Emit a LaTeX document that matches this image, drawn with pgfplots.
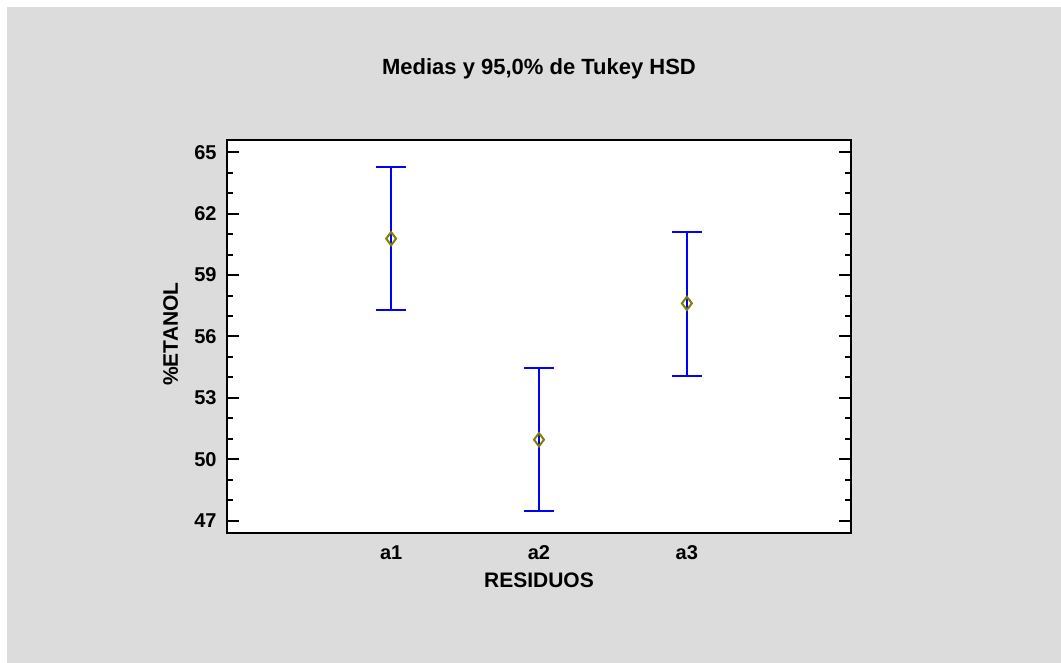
\documentclass[border=0pt]{standalone}
\usepackage{fontspec}
\setmainfont{Liberation Sans}
\usepackage{pgfplots}
\pgfplotsset{compat=1.18}
\usepackage{pgfplotstable}

\definecolor{panelgray}{RGB}{220,220,220}
\definecolor{meanolive}{RGB}{128,128,0}
\definecolor{barblue}{RGB}{0,0,255}

% means and Tukey HSD interval (upper / lower distances)
\pgfplotstableread{
x  mean   up    lo
1  60.78  3.50  3.48
2  50.96  3.49  3.47
3  57.62  3.50  3.56
}\tukey

\begin{document}
\begin{tikzpicture}
% 1px = 0.5pt, axis box at 227..851 x 140..533 px
\useasboundingbox (-113.5pt,-65pt) rectangle (417pt,266.5pt);
\fill[white] (-113.5pt,-65pt) rectangle (417pt,266.5pt);
\fill[panelgray] (-110pt,-65pt) rectangle (417pt,263pt);
\begin{axis}[
    scale only axis,
    width=312pt, height=196.5pt,
    axis background/.style={fill=white},
    axis line style={line width=1pt},
    xmin=-0.11, xmax=4.11,
    ymin=46.4, ymax=65.6,
    xtick={1,2,3},
    xticklabels={a1,a2,a3},
    xtick style={draw=none},
    ytick={47,50,53,56,59,62,65},
    minor y tick num=2,
    ytick style={line width=1pt, black},
    major tick length=6pt,
    minor tick length=3pt,
    tick align=inside,
    /pgf/number format/assume math mode=true,
    tick label style={font=\bfseries\fontsize{10}{12}\selectfont, inner sep=0pt},
    yticklabel style={anchor=east, xshift=-5pt},
    xticklabel style={anchor=north, yshift=-6pt},
    title={Medias y 95,0\% de Tukey HSD},
    title style={font=\bfseries\fontsize{11}{13}\selectfont, at={(0.5,1.150)}, anchor=center},
    xlabel={RESIDUOS},
    ylabel={\%ETANOL},
    label style={font=\bfseries\fontsize{10.5}{12}\selectfont},
    xlabel style={at={(axis description cs:0.5,-0.1196)}, anchor=center},
    ylabel style={at={(axis description cs:-0.0902,0.506)}, anchor=center},
]
\addplot[only marks, mark=diamond, mark size=3.3pt,
    mark options={draw=meanolive, fill=none, line width=1pt},
    error bars/.cd, y dir=both, y explicit,
    error bar style={barblue, line width=1pt},
    error mark options={rotate=90, mark size=7.5pt, barblue, line width=1pt}]
    table[x=x, y=mean, y error plus=up, y error minus=lo] {\tukey};
\end{axis}
\end{tikzpicture}
\end{document}
